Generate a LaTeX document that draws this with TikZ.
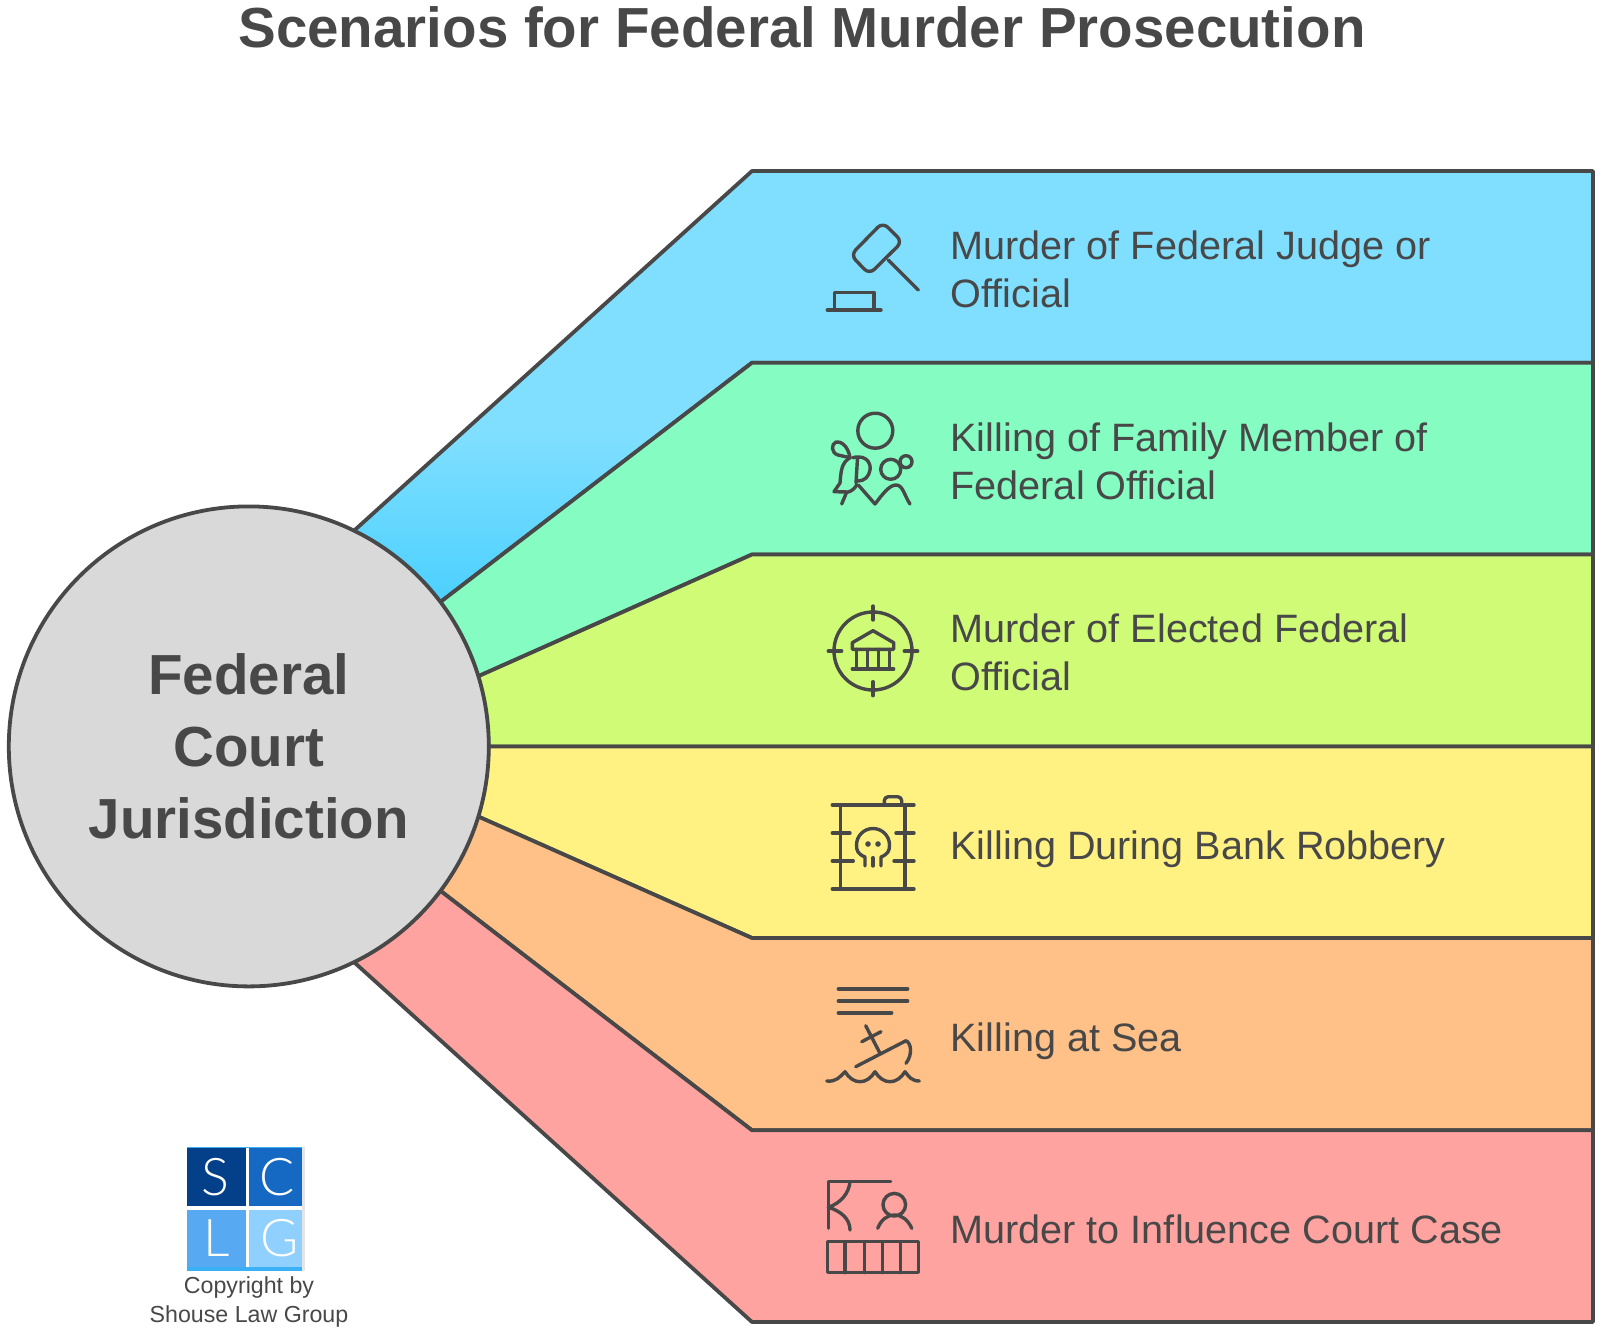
\documentclass[tikz,border=0pt]{standalone}
\usepackage{fontspec}
\setmainfont{Liberation Sans}
\newfontfamily\logofont{Lato Light}
\usetikzlibrary{backgrounds}
\definecolor{inkgrey}{HTML}{484848}
\definecolor{bluetop}{HTML}{80DFFF}
\definecolor{bluelow}{HTML}{4BD0FF}
\definecolor{logoS}{HTML}{04408A}
\definecolor{logoC}{HTML}{1569C3}
\definecolor{logoL}{HTML}{57A9F2}
\definecolor{logoG}{HTML}{8FD0FF}
\definecolor{logoedge}{HTML}{3BB0F5}
\pgfdeclareverticalshading{bluefade}{100bp}{color(0bp)=(bluelow); color(25bp)=(bluelow); color(44.5bp)=(bluetop); color(100bp)=(bluetop)}

\begin{document}
\begin{tikzpicture}[x=1pt,y=-1pt]
\tikzset{hubnode/.style = {shape=circle,draw=inkgrey,fill=black!15,line width=3.8pt,minimum size=480pt,inner sep=0pt,outer sep=0pt,align=center,text=inkgrey,font=\fontsize{56.5}{72}\selectfont\bfseries}}
\tikzset{band/.style = {draw=inkgrey,line width=3.8pt,line join=round}}
\tikzset{bandblue/.style = {shading=bluefade}}
\tikzset{bandgreen/.style = {fill={rgb,255:red,133;green,252;blue,193}}}
\tikzset{bandlime/.style = {fill={rgb,255:red,208;green,251;blue,119}}}
\tikzset{bandyellow/.style = {fill={rgb,255:red,255;green,242;blue,131}}}
\tikzset{bandorange/.style = {fill={rgb,255:red,255;green,193;blue,135}}}
\tikzset{bandred/.style = {fill={rgb,255:red,255;green,163;blue,160}}}
\tikzset{label/.style = {anchor=west,align=left,text=inkgrey,font=\fontsize{39.6}{48}\selectfont}}
\tikzset{icon/.style = {draw=inkgrey,line width=3.4pt,line cap=round,line join=round}}
\tikzset{logobox/.style = {inner sep=0pt,text=white,font=\logofont\fontsize{52}{52}\selectfont}}
\useasboundingbox (0,0) rectangle (1605,1340);

\node[text=inkgrey,font=\fontsize{56.5}{60}\selectfont\bfseries] (title) at (802,27) {Scenarios for Federal Murder Prosecution};
\node[hubnode] (hub) at (248.8,746.4) {Federal\\Court\\Jurisdiction};

\begin{scope}[on background layer]
\foreach \bandname/\angA/\angB/\yA/\yB in {bandblue/64.3/37/171/362.7,bandgreen/37/17.5/362.7/554.5,bandlime/17.5/0/554.5/746.4,bandyellow/0/-17.5/746.4/938,bandorange/-17.5/-37/938/1130.3,bandred/-37/-64.3/1130.3/1322}
  \path[band,\bandname] (hub.\angA) -- (752,\yA) -- (1593,\yA) -- (1593,\yB) -- (752,\yB) -- (hub.\angB) -- cycle;
\end{scope}

\node[label] (judge) at (947,269.5) {Murder of Federal Judge or\\Official};
\node[label] (family) at (947,461.5) {Killing of Family Member of\\Federal Official};
\node[label] (elected) at (947,652.5) {Murder of Elected Federal\\Official};
\node[label] (bank) at (947,849) {Killing During Bank Robbery};
\node[label] (sea) at (947,1041) {Killing at Sea};
\node[label] (court) at (947,1229) {Murder to Influence Court Case};

% gavel
\draw[icon,rounded corners=7pt] (882.7,222.3) -- (902.3,241.7) -- (869.3,274.3) -- (850.7,255) -- cycle;
\draw[icon] (888.3,260) -- (918.3,290);
\draw[icon] (834.3,310) -- (834.3,292.3) -- (874,292.3) -- (874,310);
\draw[icon] (827.3,310) -- (881,310);

% family
\draw[icon] (875.3,430.7) circle (17.5);
\draw[icon] (890.7,469.3) circle (10);
\draw[icon] (906,461.7) circle (6);
\draw[icon] (858.3,485) -- (875,504) .. controls (882,495) and (889,485) .. (896,485) .. controls (903,485) and (904,495) .. (910,504);
\draw[icon] (852.7,457.7) .. controls (868,454) and (871,465) .. (870,470) .. controls (869,477) and (864,481) .. (858,481);
\draw[icon] (857.5,458) -- (856,483);
\draw[icon] (850,457.7) .. controls (848,445) and (840,441) .. (836,442) .. controls (831,444) and (831,453) .. (838,455) -- (850,457.7);
\draw[icon] (850,457.7) .. controls (841,463) and (841,472) .. (840,483) -- (834,491.7) -- (848.3,492) .. controls (852,491) and (855,488) .. (856.7,485);
\draw[icon] (846.7,492) -- (841.7,504);

% target and bank
\draw[icon] (873,651) circle (39);
\draw[icon] (873,606) -- (873,620);
\draw[icon] (873,681.7) -- (873,695.7);
\draw[icon] (828.3,651) -- (841.7,651);
\draw[icon] (904.3,651) -- (917.7,651);
\draw[icon] (852.3,649.3) -- (852.3,642.7) -- (873,630.7) -- (893.7,642.7) -- (893.7,649.3) -- cycle;
\foreach \colx in {856.7,867.3,878.7,889.3}
  \draw[icon] (\colx,649.3) -- (\colx,669);
\draw[icon] (852.3,669) -- (893.7,669);

% barrel
\draw[icon] (832.3,805) -- (914,805);
\draw[icon] (832.3,889) -- (914,889);
\draw[icon] (840.7,805) -- (840.7,889);
\draw[icon] (905,805) -- (905,889);
\draw[icon] (832.3,833) -- (850,833);
\draw[icon] (896,833) -- (914,833);
\draw[icon] (832.3,861) -- (853.3,861);
\draw[icon] (894,861) -- (914,861);
\draw[icon,rounded corners=4pt] (884.3,805) -- (884.3,796.7) -- (901.7,796.7) -- (901.7,805);
\draw[icon] (865,866) -- (865,857) .. controls (858,854) and (856.5,851) .. (856.5,845) arc[start angle=180,end angle=360,radius=16.5] .. controls (889.5,851) and (888,854) .. (881,857) -- (881,866);
\draw[icon] (873,857.7) -- (873,866);
\fill[inkgrey] (868,844) circle (2.8);
\fill[inkgrey] (878,844) circle (2.8);

% ship
\draw[icon] (838.3,989) -- (907.7,989);
\draw[icon] (838.3,1001) -- (907.7,1001);
\draw[icon] (838.3,1013) -- (891.7,1013);
\draw[icon] (865.7,1025.7) -- (880,1053.3);
\draw[icon] (861.7,1041.7) -- (881,1031.7);
\draw[icon] (855.7,1066.7) -- (906,1040.7) .. controls (911,1043) and (913,1054) .. (906,1063.3);
\draw[icon] (826.7,1081) .. controls (836,1082) and (840,1077) .. (845,1071.7) .. controls (849,1078) and (854,1081.7) .. (860,1081.7) .. controls (866,1081.7) and (871,1078) .. (875,1071.7) .. controls (879,1078) and (884,1081.7) .. (890,1081.7) .. controls (896,1081.7) and (901,1078) .. (905,1071.7) .. controls (909,1077) and (912,1081) .. (919.3,1081);

% gallows and dock
\draw[icon] (890.7,1181.7) -- (828.3,1181.7) -- (828.3,1228.3);
\draw[icon] (850,1181.7) .. controls (849,1193) and (841,1203) .. (828.3,1207.3) .. controls (841,1211) and (850,1219) .. (850,1230);
\draw[icon] (894.3,1204.7) circle (11.3);
\draw[icon] (877.7,1228.3) .. controls (881,1220) and (887,1215) .. (894.3,1215) .. controls (902,1215) and (908,1220) .. (911.7,1228.3);
\draw[icon] (827.7,1241.7) rectangle (918.3,1272.7);
\foreach \barx in {845,864.3,882.3,900.7}
  \draw[icon] (\barx,1241.7) -- (\barx,1272.7);

% logo
\fill[logoedge] (187,1147.3) rectangle (302.3,1270.5);
\fill[black!10] (302.3,1147.3) rectangle (304.5,1270.5);
\fill[white] (187,1148.3) rectangle (302.3,1267.3);
\fill[logoS] (187,1148.3) rectangle (245.7,1206);
\fill[logoC] (249,1148.3) rectangle (302.3,1206);
\fill[logoL] (187,1210) rectangle (245.7,1267.3);
\fill[logoG] (249,1210) rectangle (302.3,1267.3);
\node[logobox] (letterS) at (215.7,1177) {S};
\node[logobox] (letterC) at (277,1177) {C};
\node[logobox] (letterL) at (217,1238) {L};
\node[logobox] (letterG) at (279.7,1238) {G};
\node[align=center,text=inkgrey,font=\fontsize{23.2}{29}\selectfont] (credit) at (249,1302) {Copyright by\\Shouse Law Group};
\end{tikzpicture}
\end{document}
